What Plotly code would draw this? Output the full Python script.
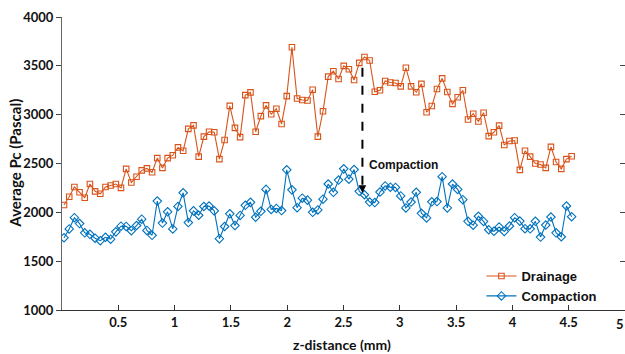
import plotly.graph_objects as go

# z-distance (mm) sample positions
z_mm = [0.018, 0.064, 0.110, 0.156, 0.202, 0.248, 0.294, 0.340, 0.386, 0.432,
        0.478, 0.524, 0.570, 0.616, 0.662, 0.708, 0.754, 0.800, 0.846, 0.892,
        0.938, 0.984, 1.030, 1.076, 1.122, 1.168, 1.214, 1.260, 1.306, 1.352,
        1.398, 1.444, 1.490, 1.536, 1.582, 1.628, 1.674, 1.720, 1.766, 1.812,
        1.858, 1.904, 1.950, 1.996, 2.042, 2.088, 2.134, 2.180, 2.226, 2.272,
        2.318, 2.364, 2.410, 2.456, 2.502, 2.548, 2.594, 2.640, 2.686, 2.732,
        2.778, 2.824, 2.870, 2.916, 2.962, 3.008, 3.054, 3.100, 3.146, 3.192,
        3.238, 3.284, 3.330, 3.376, 3.422, 3.468, 3.514, 3.560, 3.606, 3.652,
        3.698, 3.744, 3.790, 3.836, 3.882, 3.928, 3.974, 4.020, 4.066, 4.112,
        4.158, 4.204, 4.250, 4.296, 4.342, 4.388, 4.434, 4.480, 4.526]

drainage = [2075, 2160, 2260, 2205, 2150, 2290, 2215, 2190, 2260, 2275,
            2290, 2250, 2445, 2305, 2365, 2430, 2450, 2410, 2555, 2455,
            2555, 2585, 2665, 2630, 2855, 2890, 2570, 2775, 2825, 2820,
            2545, 2740, 3090, 2865, 2770, 3200, 3228, 2825, 2985, 3095,
            3005, 3060, 2905, 3190, 3690, 3165, 3150, 3145, 3255, 2775,
            3035, 3390, 3445, 3365, 3500, 3465, 3355, 3530, 3590, 3555,
            3235, 3250, 3345, 3330, 3325, 3290, 3480, 3290, 3230, 3315,
            3025, 3088, 3263, 3372, 3232, 3110, 3178, 3250, 2950, 3010,
            2930, 3020, 2780, 2820, 2888, 2690, 2730, 2735, 2435, 2630,
            2570, 2500, 2490, 2455, 2670, 2515, 2445, 2545, 2575]

compaction = [1740, 1830, 1945, 1885, 1790, 1775, 1735, 1710, 1745, 1725,
              1800, 1858, 1856, 1812, 1865, 1930, 1815, 1765, 2115, 1890,
              2005, 1830, 2060, 2200, 1895, 2015, 1970, 2060, 2065, 2015,
              1730, 1855, 1985, 1865, 1968, 2072, 2102, 1950, 2010, 2235,
              2030, 2040, 2018, 2435, 2230, 2048, 2145, 2125, 2000, 2025,
              2135, 2290, 2205, 2330, 2445, 2340, 2438, 2215, 2180, 2105,
              2100, 2208, 2270, 2258, 2255, 2168, 2045, 2105, 2205, 1990,
              1943, 2108, 2110, 2365, 2045, 2290, 2235, 2130, 1908, 1868,
              1960, 1907, 1822, 1806, 1850, 1805, 1860, 1945, 1910, 1833,
              1831, 1908, 1747, 1870, 1952, 1790, 1750, 2065, 1955]

x_ticks = [0.5, 1, 1.5, 2, 2.5, 3, 3.5, 4, 4.5, 5]
x_tick_text = ["0.5", "1", "1.5", "2", "2.5", "3", "3.5", "4", "4.5", ""]
last_x_label = "5"
y_ticks = [1000, 1500, 2000, 2500, 3000, 3500, 4000]

arrow_x = 2.668
arrow_top = 3480
arrow_bottom = 2200

ORANGE = "#D95319"
BLUE = "#0072BD"
tick_font = dict(family="Lato", size=13, color="#111111", weight="bold")

fig = go.Figure()
fig.add_trace(go.Scatter(
    x=z_mm, y=drainage, name="Drainage", mode="lines+markers",
    line=dict(color=ORANGE, width=1.1),
    marker=dict(symbol="square-open", size=5.5, color=ORANGE, line=dict(width=1.1)),
))
fig.add_trace(go.Scatter(
    x=z_mm, y=compaction, name="Compaction", mode="lines+markers",
    line=dict(color=BLUE, width=1.1),
    marker=dict(symbol="diamond-open", size=6.5, color=BLUE, line=dict(width=1.1)),
))
# invisible helper trace for the right-hand tick marks
fig.add_trace(go.Scatter(x=[0], y=[1000], yaxis="y2", mode="markers",
                         marker=dict(opacity=0), showlegend=False, hoverinfo="skip"))

# dashed pointer line + arrow head
fig.add_shape(type="line", x0=arrow_x, x1=arrow_x, y0=arrow_top, y1=arrow_bottom + 40,
              line=dict(color="black", width=2, dash="dash"))
fig.add_annotation(x=arrow_x, y=arrow_bottom, ax=arrow_x, ay=arrow_bottom + 60,
                   xref="x", yref="y", axref="x", ayref="y", text="",
                   showarrow=True, arrowhead=2, arrowsize=1, arrowwidth=1.5, arrowcolor="black")
fig.add_annotation(x=2.712, y=2484, xref="x", yref="y", text="Compaction",
                   showarrow=False, xanchor="left", yanchor="middle",
                   font=dict(family="Liberation Sans", size=12, color="#111111", weight="bold"))

# last x tick label, kept inside the page edge
fig.add_annotation(x=1.0, y=-0.012, xref="paper", yref="paper", text=last_x_label,
                   showarrow=False, xanchor="right", yanchor="top", xshift=1,
                   font=tick_font)

# axis titles
fig.add_annotation(x=-0.085, y=0.5, xref="paper", yref="paper", text="Average Pc (Pascal)",
                   showarrow=False, textangle=-90, xanchor="center", yanchor="middle",
                   font=dict(family="Lato", size=15, color="#111111", weight="bold"))
fig.add_annotation(x=0.497, y=-44 / 293, xref="paper", yref="paper", text="z-distance (mm)",
                   showarrow=False, xanchor="center", yanchor="bottom", borderpad=0,
                   font=dict(family="Lato", size=14, color="#111111", weight="bold"))

fig.update_layout(
    width=625, height=354,
    margin=dict(l=62, r=0, t=17, b=44),
    paper_bgcolor="white", plot_bgcolor="white",
    showlegend=True,
    legend=dict(x=0.745, y=0.167, xanchor="left", yanchor="top",
                bgcolor="rgba(0,0,0,0)", itemwidth=30, tracegroupgap=0,
                font=dict(family="Liberation Sans", size=13, color="#111111", weight="bold")),
    xaxis=dict(range=[0, 5], tickvals=x_ticks, ticktext=x_tick_text,
               ticks="inside", ticklen=5, tickcolor="#333333",
               showline=True, linecolor="#333333", linewidth=1,
               showgrid=False, zeroline=False, tickfont=tick_font),
    yaxis=dict(range=[1000, 4000], tickvals=y_ticks,
               ticks="outside", ticklen=5, tickcolor="#444444",
               showline=True, linecolor="#666666", linewidth=1,
               showgrid=False, zeroline=False, tickfont=tick_font),
    yaxis2=dict(range=[1000, 4000], tickvals=y_ticks, overlaying="y", side="right",
                ticks="inside", ticklen=5, tickcolor="#444444",
                showline=False, showgrid=False, zeroline=False, showticklabels=False),
)

fig.write_html("out.html")
